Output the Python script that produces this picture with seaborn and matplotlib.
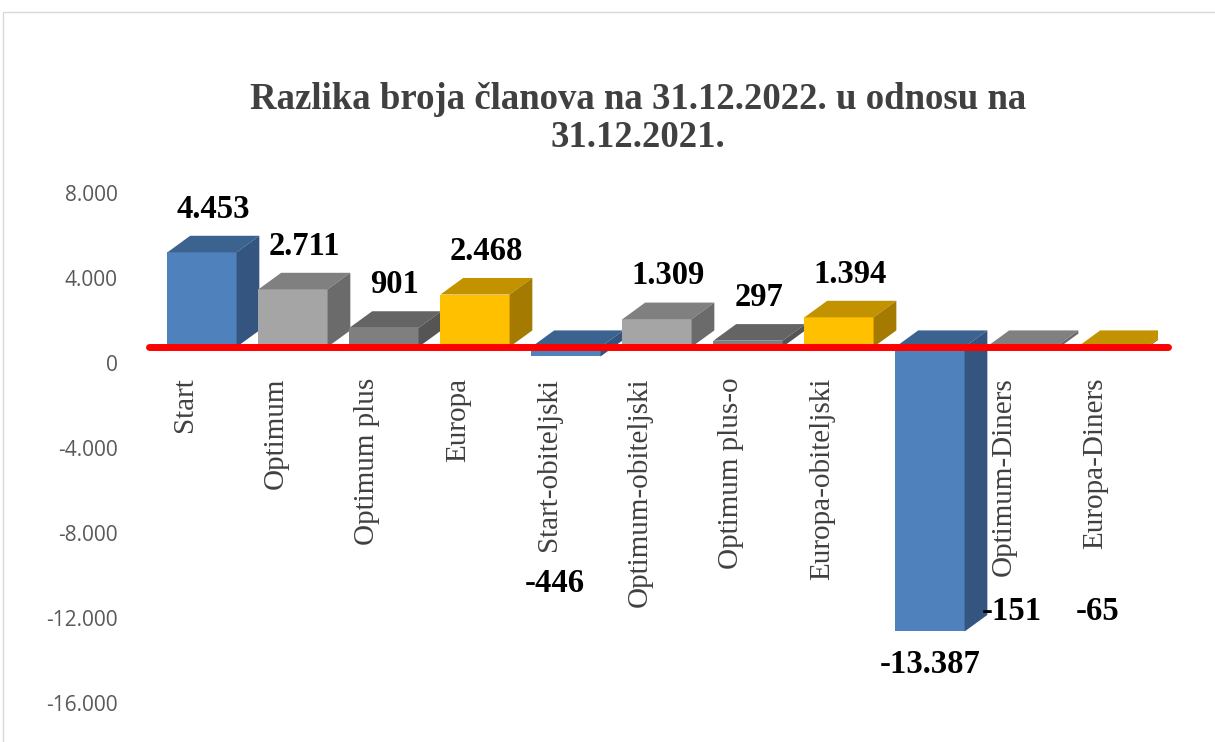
import seaborn as sns
from matplotlib import pyplot as plt
from matplotlib.patches import Polygon, Rectangle
from matplotlib.ticker import FuncFormatter
from matplotlib.transforms import ScaledTranslation

categories = [
    "Start", "Optimum", "Optimum plus", "Europa", "Start-obiteljski",
    "Optimum-obiteljski", "Optimum plus-o", "Europa-obiteljski",
    "Start-Dinesr", "Optimum-Diners", "Europa-Diners",
]
values = [4453, 2711, 901, 2468, -446, 1309, 297, 1394, -13387, -151, -65]
y_ticks = [-16000, -12000, -8000, -4000, 0, 4000, 8000]

# where Excel parked the labels of the negative bars
neg_label_y = {4: -11130, 8: -14960, 9: -12470, 10: -12470}
neg_label_dx = {4: -0.12, 8: 0.0, 9: -0.1, 10: -0.16}

# front / top / side shades
shades = {
    "blue": ("#4F81BD", "#3C6390", "#335580"),
    "light": ("#A5A5A5", "#808080", "#6B6B6B"),
    "dark": ("#7F7F7F", "#646464", "#555555"),
    "gold": ("#FFC000", "#C39200", "#A47A00"),
}
bar_kinds = ["blue", "light", "dark", "gold", "blue", "light", "dark", "gold",
             "blue", "light", "gold"]


def fmt(v):
    return f"{int(v):,}".replace(",", ".")


def main():
    sns.set_style("white")
    plt.rcParams["font.family"] = ["Liberation Serif", "DejaVu Serif"]

    fig = plt.figure(figsize=(12.15, 7.42), dpi=100)
    ax = fig.add_axes([0.1288, 0.0741, 0.8239, 0.6874])

    front = [shades[k][0] for k in bar_kinds]
    sns.barplot(x=categories, y=values, hue=categories, palette=front,
                width=0.76, saturation=1, legend=False, ax=ax,
                edgecolor="none")

    # fake 3D: top and side faces
    dx, dy = 0.25, 780
    for i, p in enumerate(ax.patches):
        x0, w = p.get_x(), p.get_width()
        ytop = max(0, values[i])
        ybot = min(0, values[i])
        z = 2 + i * 0.1
        p.set_zorder(z)
        _, top_c, side_c = shades[bar_kinds[i]]
        ax.add_patch(Polygon([(x0, ytop), (x0 + w, ytop), (x0 + w + dx, ytop + dy),
                              (x0 + dx, ytop + dy)], closed=True,
                             facecolor=top_c, edgecolor="none", zorder=z))
        ax.add_patch(Polygon([(x0 + w, ybot), (x0 + w, ytop),
                              (x0 + w + dx, ytop + dy), (x0 + w + dx, ybot + dy)],
                             closed=True, facecolor=side_c, edgecolor="none",
                             zorder=z))

        if values[i] >= 0:
            ax.annotate(fmt(values[i]), xy=(i + 0.12, values[i] + dy),
                        xytext=(0, 8), textcoords="offset points",
                        ha="center", va="bottom", fontsize=23.5,
                        fontweight="bold", color="black", zorder=20)
        else:
            ax.annotate(fmt(values[i]), xy=(i + neg_label_dx[i], neg_label_y[i]),
                        ha="center", va="center", fontsize=23.5,
                        fontweight="bold", color="black", zorder=20)

    ax.axhline(0, xmin=-0.0075, xmax=1.0105, color="#FF0000", lw=5,
               clip_on=False, zorder=15)

    ax.set_xlim(-0.5, len(categories) - 0.5)
    ax.set_ylim(-16000, 8000)
    ax.set_yticks(y_ticks)
    ax.yaxis.set_major_formatter(FuncFormatter(lambda v, _: fmt(v)))
    ax.set_xlabel("")
    ax.set_ylabel("")
    for s in ax.spines.values():
        s.set_visible(False)
    ax.spines["bottom"].set_position(("data", 0))
    ax.tick_params(axis="both", length=0)
    ax.tick_params(axis="y", pad=28, labelsize=15, labelcolor="#595959")
    ax.tick_params(axis="x", pad=22, labelsize=21, labelcolor="#404040")

    down = ScaledTranslation(0, -0.16, fig.dpi_scale_trans)
    for lab in ax.get_yticklabels():
        lab.set_family(["Open Sans", "DejaVu Sans"])
        lab.set_transform(lab.get_transform() + down)
    left = ScaledTranslation(-0.17, 0, fig.dpi_scale_trans)
    for lab in ax.get_xticklabels():
        lab.set_rotation(90)
        lab.set_ha("center")
        lab.set_va("top")
        lab.set_transform(lab.get_transform() + left)

    fig.text(0.525, 1 - 82 / 742,
             "Razlika broja članova na 31.12.2022. u odnosu na\n31.12.2021.",
             ha="center", va="top", fontsize=26.5, fontweight="bold",
             color="#404040", linespacing=1.12)

    fig.add_artist(Rectangle((3 / 1215, -0.05), 1.0, 1 - 12 / 742 + 0.05,
                             transform=fig.transFigure, fill=False,
                             edgecolor="#D9D9D9", lw=1))

    fig.savefig("out.png", dpi=100)


if __name__ == "__main__":
    main()
